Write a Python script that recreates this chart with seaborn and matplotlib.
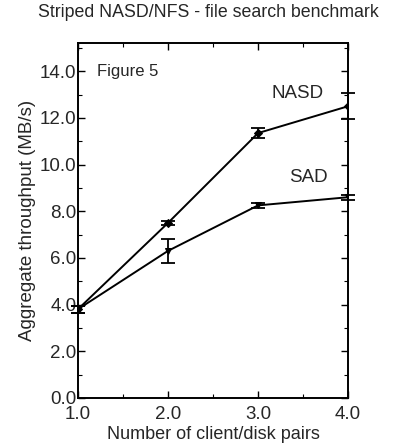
"""Striped NASD/NFS file search benchmark - throughput vs client/disk pairs"""
import matplotlib

matplotlib.use("Agg")
import matplotlib.pyplot as plt
import pandas as pd
import seaborn as sns
from matplotlib.ticker import FormatStrFormatter, MultipleLocator

pairs = [1.0, 2.0, 3.0, 4.0]
nasd_mbs = [3.8, 7.5, 11.35, 12.5]
nasd_err = [0.15, 0.1, 0.2, 0.55]
sad_mbs = [3.8, 6.3, 8.25, 8.6]
sad_err = [0.15, 0.5, 0.12, 0.1]

sns.set_style("ticks")
plt.rcParams["font.family"] = ["Liberation Sans", "DejaVu Sans"]

df = pd.concat(
    [
        pd.DataFrame({"pairs": pairs, "mbs": nasd_mbs, "err": nasd_err, "fs": "NASD"}),
        pd.DataFrame({"pairs": pairs, "mbs": sad_mbs, "err": sad_err, "fs": "SAD"}),
    ]
)

f = plt.figure(figsize=(3.96, 4.46), dpi=100)
ax = f.add_axes([0.197, 0.108, 0.682, 0.795])

markers = {"NASD": "D", "SAD": "v"}
for name, g in df.groupby("fs"):
    sns.lineplot(
        data=g,
        x="pairs",
        y="mbs",
        ax=ax,
        color="black",
        lw=1.4,
        marker=markers[name],
        markersize=4 if name == "NASD" else 5,
        markerfacecolor="black",
        markeredgecolor="black",
        legend=False,
    )
    ax.errorbar(
        g["pairs"],
        g["mbs"],
        yerr=g["err"],
        fmt="none",
        ecolor="black",
        elinewidth=1.3,
        capsize=5,
        capthick=1.3,
        clip_on=False,
    )

ax.set_xlim(1.0, 4.0)
ax.set_ylim(0.0, 15.2)
ax.xaxis.set_major_locator(MultipleLocator(1.0))
ax.xaxis.set_minor_locator(MultipleLocator(0.5))
ax.yaxis.set_major_locator(MultipleLocator(2.0))
ax.yaxis.set_minor_locator(MultipleLocator(1.0))
ax.xaxis.set_major_formatter(FormatStrFormatter("%.1f"))
ax.yaxis.set_major_formatter(FormatStrFormatter("%.1f"))
ax.tick_params(which="both", direction="in", top=True, right=True, color="black")
ax.tick_params(which="major", length=5, width=1.0, labelsize=13.5, pad=1)
ax.tick_params(axis="x", which="major", pad=6)
ax.tick_params(which="minor", length=3, width=0.8)
for s in ax.spines.values():
    s.set_linewidth(1.4)
    s.set_color("black")

ax.set_xlabel("Number of client/disk pairs", fontsize=13, labelpad=2)
ax.set_ylabel("Aggregate throughput (MB/s)", fontsize=13.5, labelpad=3)
f.suptitle("Striped NASD/NFS - file search benchmark", fontsize=12.8, x=0.527, y=0.99)

ax.text(1.21, 14.0, "Figure 5", fontsize=12, va="center", ha="left")
ax.text(3.73, 13.05, "NASD", fontsize=13.5, va="center", ha="right")
ax.text(3.34, 9.45, "SAD", fontsize=13.5, va="center", ha="left")

f.savefig("out.png", dpi=100)
